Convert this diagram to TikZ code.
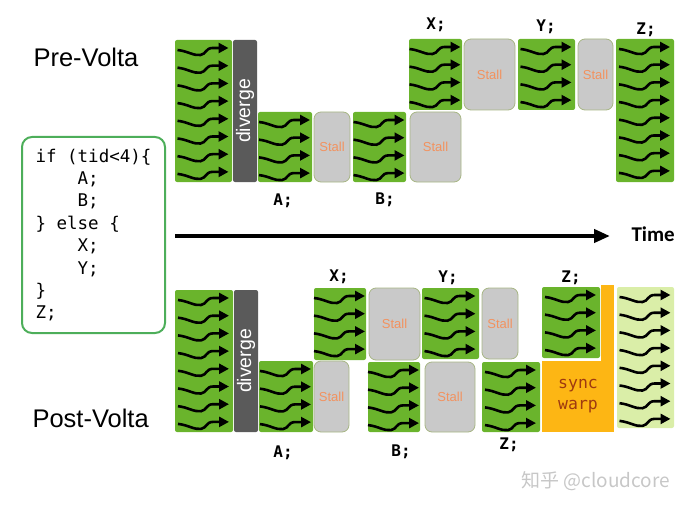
\documentclass[tikz,border=0pt]{standalone}
\usepackage{fontspec}
\usepackage{graphicx}
\setmainfont{Liberation Sans}
\newfontfamily\monofont{DejaVu Sans Mono}
\newfontfamily\calfont{Carlito}
\newfontfamily\cjkfont{Noto Sans CJK SC}
\usetikzlibrary{arrows.meta,calc}

\definecolor{warpgreen}{HTML}{6AB42C}
\definecolor{donegreen}{HTML}{DAEEA8}
\definecolor{stallgray}{HTML}{C9C9C9}
\definecolor{stalledge}{HTML}{A7B684}
\definecolor{stalltext}{HTML}{F2925F}
\definecolor{divgray}{HTML}{5A5A5A}
\definecolor{syncorange}{HTML}{FDB614}
\definecolor{synctext}{HTML}{9E3A10}
\definecolor{codegreen}{HTML}{4DAE5A}

\newcommand\ind{\hphantom{0000}}

\tikzset{
    blk/.style={inner sep=0pt, outer sep=0pt, anchor=north west, rounded corners=2pt},
    wh/.style 2 args={minimum width=#1pt, minimum height=#2pt},
    warp/.style={blk, fill=warpgreen},
    done/.style={blk, fill=donegreen},
    stall/.style={blk, fill=stallgray, draw=stalledge, line width=0.8pt,
                  rounded corners=7pt, text=stalltext,
                  font=\fontsize{13}{15}\selectfont},
    divbar/.style={blk, fill=divgray, text=white,
                   font=\fontsize{19.5}{22}\selectfont},
    syncbox/.style={blk, rounded corners=0pt, fill=syncorange, text=synctext,
                    align=center, font=\monofont\fontsize{16.5}{21}\selectfont},
    stmt/.style={anchor=base, font=\monofont\bfseries\fontsize{16}{18}\selectfont},
    era/.style={anchor=base west, font=\fontsize{25.5}{28}\selectfont},
    thread/.pic={\draw[line width=2.6pt, -{Triangle[length=10pt,width=10pt]}]
        (-26,-1) .. controls (-16,0) and (-10,5) .. (-3,4)
        .. controls (3,3) and (2,-3) .. (9,-3) -- (25,-3);},
    timeline/.style={line width=4pt, -{Triangle[length=16pt,width=13pt]}},
    codebox/.style={draw=codegreen, line width=2pt, rounded corners=10pt,
                    align=left, inner sep=0pt,
                    font=\monofont\fontsize{17.5}{22.4}\selectfont},
}

\begin{document}
\begin{tikzpicture}[x=1pt, y=-1pt]
    \useasboundingbox (0,0) rectangle (696,508);

    % source code
    \node[codebox, wh={143}{196}] (code) at (93.5,235) {if (tid<4)\{\\
        \ind A;\\ \ind B;\\ \} else \{\\ \ind X;\\ \ind Y;\\ \}\\ Z;};

    % pre-Volta schedule
    \node[era] (pretitle) at (30,67) {Pre-Volta};
    \node[warp, wh={57}{142}] (prebase) at (175,40) {};
    \node[divbar, wh={24}{142}] (prediv) at (233,40) {\rotatebox{90}{diverge}};
    \node[warp, wh={54}{70}] (prea) at (258,112) {};
    \node[stall, wh={36}{70}] (prestalla) at (314,112) {Stall};
    \node[warp, wh={53}{70}] (preb) at (353,112) {};
    \node[stall, wh={51}{70}] (prestallb) at (410,112) {Stall};
    \node[warp, wh={53}{71}] (prex) at (409,39) {};
    \node[stall, wh={51}{71}] (prestallx) at (464,39) {Stall};
    \node[warp, wh={57}{71}] (prey) at (518,39) {};
    \node[stall, wh={35}{71}] (prestally) at (578,39) {Stall};
    \node[warp, wh={58}{143}] (prez) at (616,39) {};
    \node[stmt] (prelabx) at (436,30) {X;};
    \node[stmt] (prelaby) at (546,32) {Y;};
    \node[stmt] (prelabz) at (646,35) {Z;};
    \node[stmt] (prelaba) at (283,205) {A;};
    \node[stmt] (prelabb) at (385,204) {B;};

    % time axis
    \coordinate (t0) at (175,236);
    \node[anchor=base west, font=\calfont\bfseries\fontsize{21}{24}\selectfont]
        (time) at (628,241) {Time};
    \coordinate (t1) at (610,236);
    \draw[timeline] (t0) -- (t1);

    % post-Volta schedule
    \node[era] (posttitle) at (29,427) {Post-Volta};
    \node[warp, wh={58}{142}] (postbase) at (175,290) {};
    \node[divbar, wh={24}{142}] (postdiv) at (234,290) {\rotatebox{90}{diverge}};
    \node[warp, wh={54}{71}] (posta) at (259,361) {};
    \node[stall, wh={35}{71}] (poststalla) at (314,361) {Stall};
    \node[warp, wh={52}{72}] (postx) at (314,288) {};
    \node[stall, wh={51}{72}] (poststallx) at (369,288) {Stall};
    \node[warp, wh={52}{70}] (postb) at (368,362) {};
    \node[warp, wh={57}{71}] (posty) at (422,288) {};
    \node[stall, wh={36}{71}] (poststally) at (482,288) {Stall};
    \node[stall, wh={50}{70}] (poststallb) at (425,362) {Stall};
    \node[warp, wh={58}{70}] (postz) at (482,362) {};
    \node[warp, wh={58}{71}] (postzz) at (542,287) {};
    \node[syncbox, wh={72}{71}] (sync) at (542,361) {sync\\warp};
    \fill[syncorange] (sync.north east) rectangle ++(-13,-76);
    \node[done, wh={57}{141}] (postdone) at (617,287) {};
    \node[stmt] (postlabx) at (339,281) {X;};
    \node[stmt] (postlaby) at (448,282) {Y;};
    \node[stmt] (postlabzz) at (571,282) {Z;};
    \node[stmt] (postlaba) at (283,457) {A;};
    \node[stmt] (postlabb) at (401,456) {B;};
    \node[stmt] (postlabz) at (509,449) {Z;};

    % threads
    \foreach \b/\n in {prebase/8, prea/4, preb/4, prex/4, prey/4, prez/8,
                       postbase/8, posta/4, postx/4, postb/4, posty/4,
                       postz/4, postzz/4, postdone/8}
        \foreach \k in {1,...,\n}
            \pic at ($(\b.north)+(0,{11+17.7*(\k-1)})$) {thread};

    \node[anchor=base west, text=black!22, font=\cjkfont\fontsize{19}{21}\selectfont]
        (mark) at (518,487) {知乎 @cloudcore};

\end{tikzpicture}
\end{document}
